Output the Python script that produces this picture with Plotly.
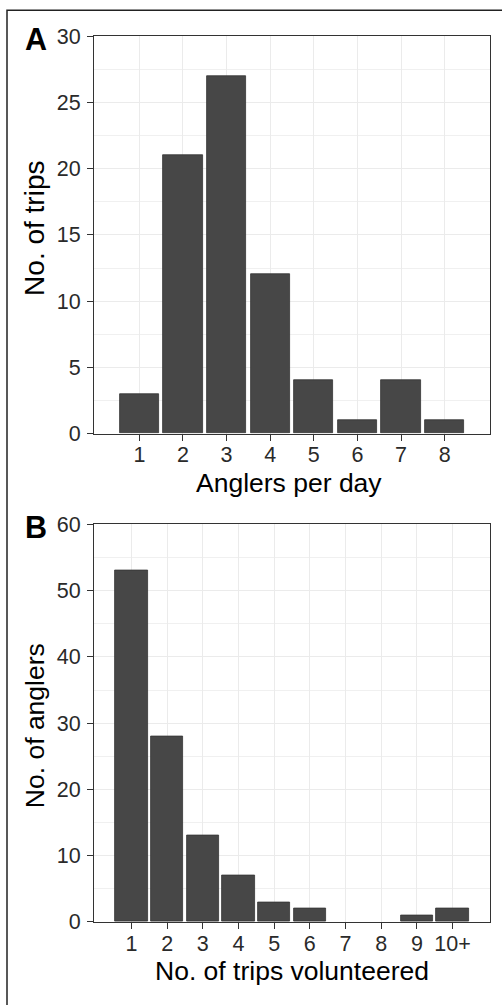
import plotly.graph_objects as go

W, H = 502, 1005

# Panel A data
a_categories = ["1", "2", "3", "4", "5", "6", "7", "8"]
a_values = [3, 21, 27, 12, 4, 1, 4, 1]

# Panel B data
b_categories = ["1", "2", "3", "4", "5", "6", "7", "8", "9", "10+"]
b_values = [53, 28, 13, 7, 3, 2, 0, 0, 1, 2]

a_yticks = [0, 5, 10, 15, 20, 25, 30]
b_yticks = [0, 10, 20, 30, 40, 50, 60]

BAR = "#474747"
EDGE = "#333333"
FONT = "Liberation Sans, Arial, sans-serif"

# vertical calibration of the capture (observed: shown = 0.9775*page + 10.8)
SY, OY = 0.9775, 10.8

def px_x(p):
    return p / W

def px_y(p):
    return 1 - ((p - OY) / SY) / H

fig = go.Figure()

a_pos = list(range(1, len(a_categories) + 1))
b_pos = list(range(1, len(b_categories) + 1))

def edge_widths(vals):
    return [0.8 if v > 0 else 0 for v in vals]

fig.add_trace(go.Bar(x=a_pos, y=a_values, width=0.9, xaxis="x", yaxis="y",
                     marker=dict(color=BAR, line=dict(color=EDGE, width=edge_widths(a_values))),
                     showlegend=False, hoverinfo="x+y"))
fig.add_trace(go.Bar(x=b_pos, y=b_values, width=0.9, xaxis="x2", yaxis="y2",
                     marker=dict(color=BAR, line=dict(color=EDGE, width=edge_widths(b_values))),
                     showlegend=False, hoverinfo="x+y"))

xdom = [px_x(94), px_x(490)]

common = dict(
    showline=True, linecolor="#333333", linewidth=1, mirror=True,
    ticks="outside", ticklen=6, tickwidth=1, tickcolor="#333333",
    showgrid=True, gridcolor="#EBEBEB", gridwidth=1.3,
    zeroline=False,
    tickfont=dict(family=FONT, size=21.5, color="#2a2a2a"),
    fixedrange=True,
)

fig.update_layout(
    width=W, height=H,
    margin=dict(l=0, r=0, t=0, b=0),
    paper_bgcolor="white", plot_bgcolor="white",
    bargap=0,
    xaxis=dict(common, domain=xdom, anchor="y",
               range=[-0.04, len(a_categories) + 1.04],
               tickvals=a_pos, ticktext=a_categories, ticklabelstandoff=-4),
    yaxis=dict(common, domain=[px_y(434), px_y(36)], anchor="x",
               range=[0, 30], tickvals=a_yticks, ticklabelstandoff=2,
               minor=dict(dtick=2.5, tick0=0, showgrid=True, gridcolor="#F0F0F0", gridwidth=1.1, ticks="")),
    xaxis2=dict(common, domain=xdom, anchor="y2",
                range=[-0.05, len(b_categories) + 1.05],
                tickvals=b_pos, ticktext=b_categories, ticklabelstandoff=-4),
    yaxis2=dict(common, domain=[px_y(923), px_y(525)], anchor="x2",
                range=[0, 60], tickvals=b_yticks, ticklabelstandoff=2,
                minor=dict(dtick=5, tick0=0, showgrid=True, gridcolor="#F0F0F0", gridwidth=1.1, ticks="")),
)

def ann(text, x, y, size, angle=0, bold=False, color="black"):
    fig.add_annotation(
        text=f"<b>{text}</b>" if bold else text,
        xref="paper", yref="paper", x=px_x(x), y=px_y(y),
        xanchor="center", yanchor="middle", showarrow=False,
        textangle=angle, font=dict(family=FONT, size=size, color=color),
    )

ann("Anglers per day", 289, 483, 26.5)
ann("No. of trips volunteered", 292, 972, 26.5)
ann("No. of trips", 35, 229, 28)
fig.layout.annotations[-1].textangle = -90
ann("No. of anglers", 35, 727, 26.5, angle=-90)
ann("A", 36, 39, 30.5, bold=True)
ann("B", 36, 528, 30.5, bold=True)

# outer frame
fig.add_shape(type="rect", xref="paper", yref="paper",
              x0=px_x(7), x1=1.02, y0=-0.03, y1=px_y(10),
              line=dict(color="#222222", width=1.5), fillcolor="rgba(0,0,0,0)")

fig.write_html(
    "out.html",
    config={"displayModeBar": False},
    post_script=(
        "document.body.style.margin='0';document.body.style.padding='0';"
        "document.documentElement.style.overflow='hidden';document.body.style.overflow='hidden';"
        "var gd=document.getElementById('{plot_id}');"
        "gd.style.position='fixed';gd.style.top='0px';gd.style.left='0px';"
    ),
)
